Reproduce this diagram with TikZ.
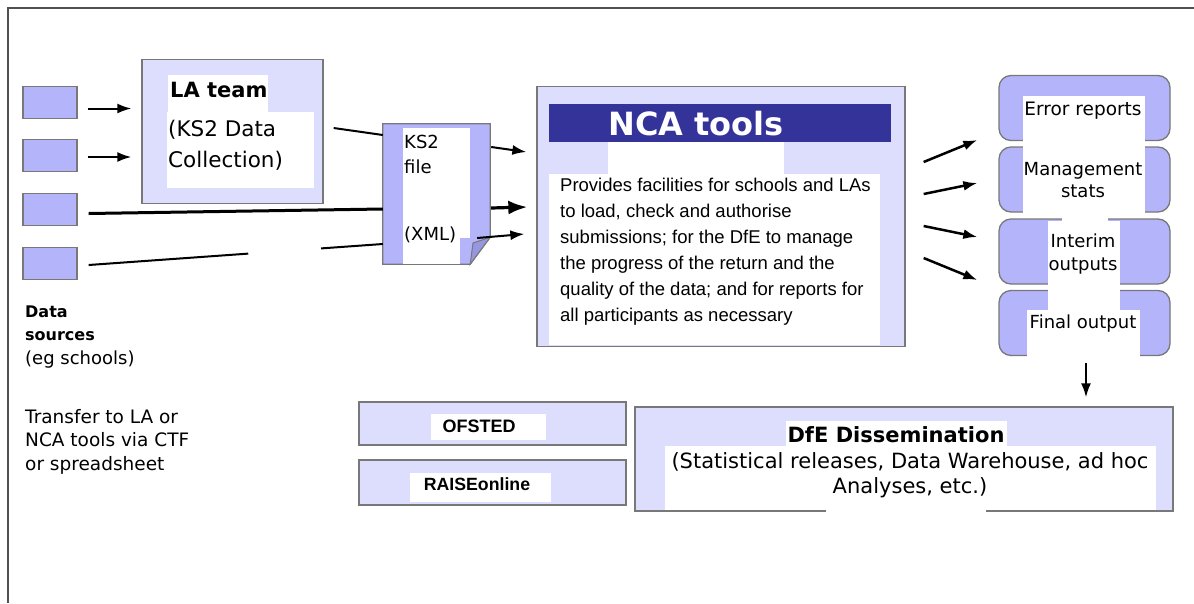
\documentclass[tikz,border=0pt]{standalone}
\usepackage{fontspec}
\setmainfont{DejaVu Sans}
\newfontfamily\arialfont{Liberation Sans}
\usetikzlibrary{positioning, arrows.meta, calc}
\definecolor{boxlav}{RGB}{180,180,250}
\definecolor{palelav}{RGB}{221,221,253}
\definecolor{foldlav}{RGB}{150,150,225}
\definecolor{ncablue}{RGB}{51,51,153}
\definecolor{edgegray}{RGB}{120,120,120}
\definecolor{framegray}{RGB}{80,80,80}

\tikzset{
  srcbox/.style={draw=edgegray, line width=1.3pt, fill=boxlav, minimum width=54pt, minimum height=32pt, inner sep=0pt},
  panel/.style={draw=edgegray, line width=1.3pt, fill=palelav, inner sep=0pt},
  outbox/.style={draw=edgegray, line width=1.3pt, fill=boxlav, rounded corners=12pt, minimum width=171pt, minimum height=65pt, inner sep=0pt},
  lbl/.style={anchor=base west, inner sep=0pt},
  mid/.style={anchor=base, inner sep=0pt, align=center},
  arr/.style={-{Latex[length=14pt,width=10pt]}, line width=2pt},
  bigarr/.style={-{Latex[length=19pt,width=14pt]}, line width=3.2pt},
}

\begin{document}
\begin{tikzpicture}[x=1pt, y=-1pt]
        \useasboundingbox (0,0) rectangle (1194,603);
        % frame
        \draw[framegray, line width=1.3pt] (8,603) -- (8,8) -- (1194,8);

        % Data sources
        \node[srcbox] (src1) at (50,102.5) {};
        \node[srcbox] (src2) at (50,155.5) {};
        \node[srcbox] (src3) at (50,209.5) {};
        \node[srcbox] (src4) at (50,263.5) {};
        \node[lbl, align=left, font=\bfseries\fontsize{16}{23}\selectfont] (srchead) at (25,340) {Data\\sources};
        \node[lbl, font=\fontsize{18}{23}\selectfont] (srcnote) at (25,364) {(eg schools)};
        \node[lbl, align=left, font=\fontsize{18.5}{23.5}\selectfont] (srcvia) at (25,470) {Transfer to LA or\\NCA tools via CTF\\or spreadsheet};

        % LA team
        \node[panel, minimum width=181pt, minimum height=144pt] (lateam) at (232.5,131.5) {};
        \fill[white] (168,75) rectangle (268,112);
        \fill[white] (167,112) rectangle (314,188);
        \node[lbl, font=\bfseries\fontsize{21}{24}\selectfont] (lahead) at (170,97) {LA team};
        \node[lbl, align=left, font=\fontsize{21.5}{31}\selectfont] (latext) at (168,167) {(KS2 Data\\Collection)};

        % KS2 file
        \node[minimum width=107pt, minimum height=140pt, inner sep=0pt] (ksfile) at (436.5,194) {};
        \filldraw[fill=boxlav, draw=edgegray, line width=1.3pt] (ksfile.north west) -- (ksfile.north east)
            -- ($(ksfile.south east)+(0,-27)$) -- ($(ksfile.south east)+(-20,0)$) -- (ksfile.south west) -- cycle;
        \fill[white] (403,128) rectangle (470,238);
        \fill[white] (403,238) rectangle (460,264);
        \filldraw[fill=foldlav, draw=edgegray, line width=1pt] ($(ksfile.south east)+(0,-27)$) -- ($(ksfile.south east)+(-20,0)$) -- (473,243) -- cycle;
        \node[lbl, align=left, font=\fontsize{18}{25}\selectfont] (kstext) at (404,173) {KS2\\file};
        \node[lbl, font=\fontsize{18}{25}\selectfont] (ksxml) at (404,240) {(XML)};

        % NCA tools
        \node[panel, minimum width=368pt, minimum height=260pt] (nca) at (721,216.5) {};
        \fill[ncablue] (549,104) rectangle (891,142);
        \fill[white] (608,142) rectangle (784,174);
        \fill[white] (549,174) rectangle (880,345);
        \node[mid, text=white, font=\bfseries\fontsize{32}{36}\selectfont] (ncahead) at (696,135) {NCA tools};
        \node[lbl, align=left, font=\arialfont\fontsize{18.5}{26}\selectfont] (ncatext) at (560,321) {Provides facilities for schools and LAs\\to load, check and authorise\\submissions; for the DfE to manage\\the progress of the return and the\\quality of the data; and for reports for\\all participants as necessary};

        % Outputs
        \node[outbox] (out1) at (1084.5,108) {};
        \node[outbox] (out2) at (1084.5,179.5) {};
        \node[outbox] (out3) at (1084.5,251.5) {};
        \node[outbox] (out4) at (1084.5,323) {};
        \fill[white] (1023,96) rectangle (1145,213);
        \fill[white] (1062,213) rectangle (1108,221);
        \fill[white] (1048,221) rectangle (1120,310);
        \fill[white] (1027,310) rectangle (1140,357);
        \node[mid, font=\fontsize{18.5}{22}\selectfont] (out1txt) at (1083,115) {Error reports};
        \node[mid, font=\fontsize{18}{22}\selectfont] (out2txt) at (1083,197) {Management\\stats};
        \node[mid, font=\fontsize{18}{23}\selectfont] (out3txt) at (1083,270) {Interim\\outputs};
        \node[mid, font=\fontsize{18}{22}\selectfont] (out4txt) at (1083,328) {Final output};

        % OFSTED / RAISEonline
        \node[panel, minimum width=267pt, minimum height=43pt] (ofsted) at (492.5,423.5) {};
        \node[panel, minimum width=267pt, minimum height=45pt] (raise) at (492.5,482.5) {};
        \fill[white] (431,414) rectangle (546,440);
        \fill[white] (410,473) rectangle (551,502);
        \node[mid, font=\arialfont\bfseries\fontsize{18}{20}\selectfont] (ofstedtxt) at (479,432) {OFSTED};
        \node[mid, font=\arialfont\bfseries\fontsize{17.7}{20}\selectfont] (raisetxt) at (477,490) {RAISEonline};

        % DfE Dissemination
        \node[panel, minimum width=538pt, minimum height=104pt] (dfe) at (904,459) {};
        \fill[white] (786,421) rectangle (1007,446);
        \fill[white] (665,446) rectangle (1156,510);
        \fill[white] (826,509) rectangle (986,514);
        \node[mid, font=\bfseries\fontsize{21}{24}\selectfont] (dfehead) at (896,442) {DfE Dissemination};
        \node[mid, font=\fontsize{21}{25}\selectfont] (dfetext) at (910,493) {(Statistical releases, Data Warehouse, ad hoc\\Analyses, etc.)};

        % Connectors
        \draw[arr] ($(src1.east)+(10,6)$) -- ($(lateam.west |- src1.east)+(-10,6)$);
        \draw[arr] ($(src2.east)+(10,1.5)$) -- ($(lateam.west |- src2.east)+(-10,1.5)$);
        \draw[line width=3pt] ($(src3.east)+(11,4)$) -- ($(ksfile.west)+(0,15)$);
        \draw[line width=2pt, dash pattern=on 160pt off 73pt on 100pt] ($(src4.east)+(11,1.5)$) -- ($(ksfile.west)+(0,50)$);
        \draw[line width=2pt] ($(lateam.east)+(10,-3.5)$) -- ($(ksfile.west)+(0,-59)$);

        \draw[arr] ($(ksfile.east)+(1,-47)$) -- ($(nca.west)+(-10,-64.5)$);
        \draw[bigarr] ($(ksfile.east)+(1,14)$) -- ($(nca.west)+(-9,-9.5)$);
        \draw[arr] ($(ksfile.east)+(-13,44)$) -- ($(nca.west)+(-12,17.5)$);

        \draw[arr, line width=2.5pt] ($(nca.east)+(18,-54.5)$) -- ($(out1.west)+(-21,32)$);
        \draw[arr, line width=2.5pt] ($(nca.east)+(18,-22.5)$) -- ($(out2.west)+(-21,3.5)$);
        \draw[arr, line width=2.5pt] ($(nca.east)+(18,9.5)$) -- ($(out3.west)+(-21,-14.5)$);
        \draw[arr, line width=2.5pt] ($(nca.east)+(18,41.5)$) -- ($(out4.west)+(-21,-43)$);

        \draw[arr] ($(out4.south)+(1.5,7)$) -- ($(dfe.north -| out4.south)+(1.5,-9)$);
\end{tikzpicture}
\end{document}
